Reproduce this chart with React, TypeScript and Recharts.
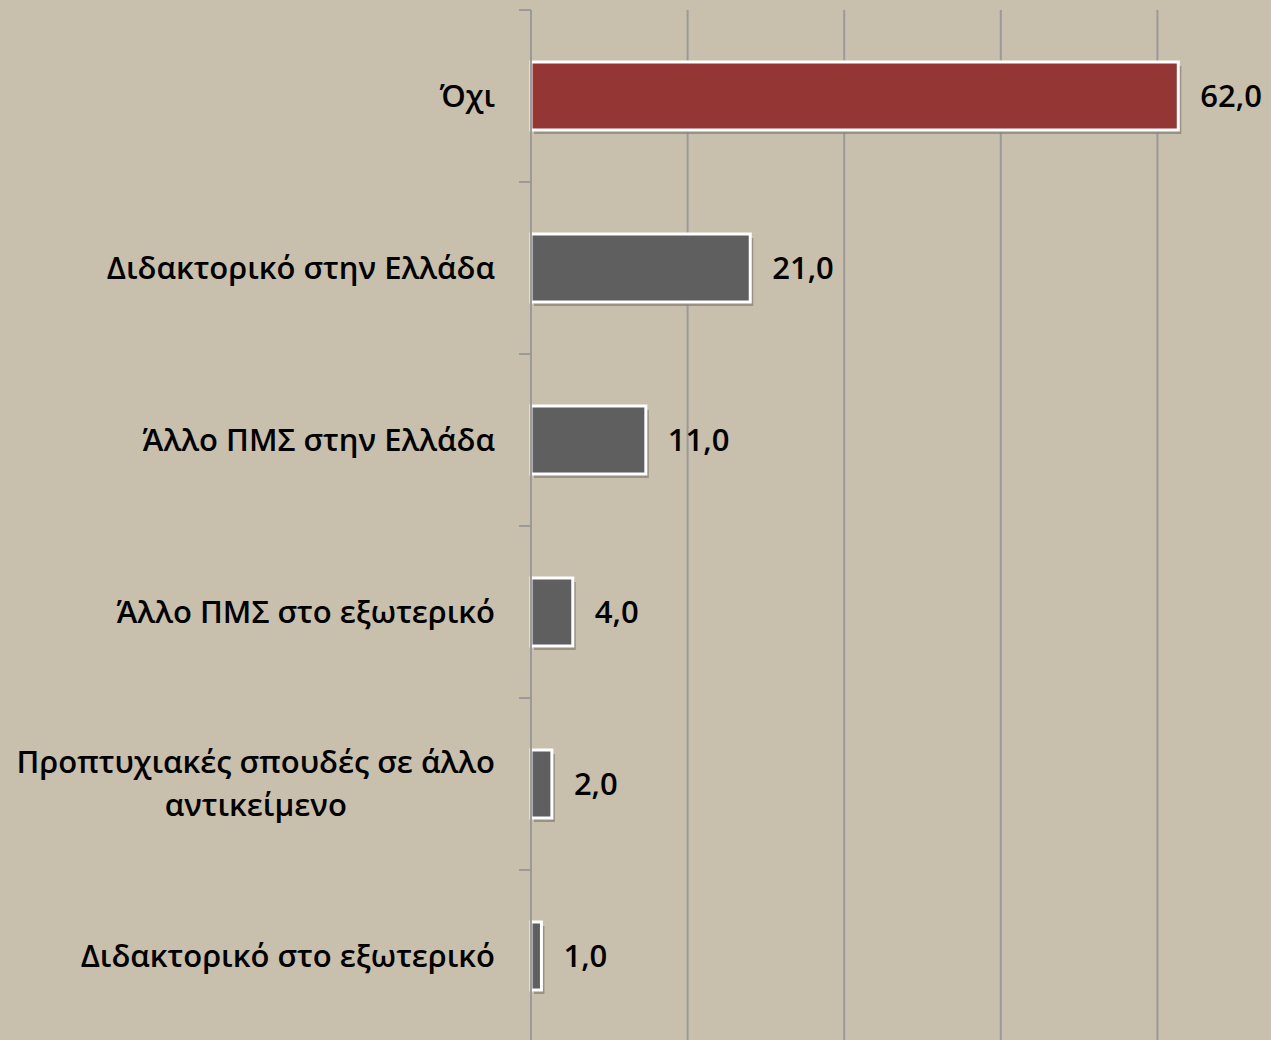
import { Bar, BarChart, CartesianGrid, Cell, LabelList, XAxis, YAxis } from "recharts";

const categories = [
	"Όχι",
	"Διδακτορικό στην Ελλάδα",
	"Άλλο ΠΜΣ στην Ελλάδα",
	"Άλλο ΠΜΣ στο εξωτερικό",
	"Προπτυχιακές σπουδές σε άλλο\nαντικείμενο",
	"Διδακτορικό στο εξωτερικό",
];
const values = [62.0, 21.0, 11.0, 4.0, 2.0, 1.0];
const barColors = ["#943634", "#5f5f5f", "#5f5f5f", "#5f5f5f", "#5f5f5f", "#5f5f5f"];
const xTicks = [0, 15, 30, 45, 60, 75];

const data = categories.map((name, i) => ({ name, value: values[i] }));

const FONT = "'Open Sans', 'DejaVu Sans', sans-serif";
const FONT_SIZE = 31;
const WEIGHT = 600;
const BAND = 172;

let ctx: CanvasRenderingContext2D | null = null;
const measure = (s: string) => {
	if (!ctx) ctx = document.createElement("canvas").getContext("2d");
	if (!ctx) return s.length * FONT_SIZE * 0.55;
	ctx.font = `${WEIGHT} ${FONT_SIZE}px 'Open Sans'`;
	return ctx.measureText(s).width;
};

// tick x arrives 8px left of the axis line
const CategoryTick = (props: any) => {
	const { x, y, payload } = props;
	const lines: string[] = String(payload.value).split("\n");
	const w = Math.max(...lines.map(measure));
	const right = -28;
	const lh = 43;
	const y0 = -((lines.length - 1) * lh) / 2;
	return (
		<g transform={`translate(${x},${y})`}>
			<line x1={-4} x2={8} y1={-BAND / 2} y2={-BAND / 2} stroke="#9a9a9a" strokeWidth={2} />
			<line x1={-4} x2={8} y1={BAND / 2} y2={BAND / 2} stroke="#9a9a9a" strokeWidth={2} />
			{lines.map((l, i) => (
				<text
					key={i}
					x={lines.length > 1 ? right - w / 2 : right}
					y={y0 + i * lh}
					dy="0.35em"
					textAnchor={lines.length > 1 ? "middle" : "end"}
					fontFamily={FONT}
					fontSize={FONT_SIZE}
					fontWeight={WEIGHT}
					fill="#000"
				>
					{l}
				</text>
			))}
		</g>
	);
};

const ShadowBar = (props: any) => {
	const { x, y, width, height, fill } = props;
	return (
		<g>
			<rect x={x + 3} y={y + 4} width={width} height={height} fill="#8d877b" opacity={0.8} />
			<rect x={x} y={y} width={width} height={height} fill={fill} stroke="#ffffff" strokeWidth={3} />
		</g>
	);
};

const App = () => {
	return (
		<div
			style={{
				position: "absolute",
				left: 0,
				top: 0,
				width: 1271,
				height: 1040,
				overflow: "hidden",
				background: "#c8bfac",
			}}
		>
			<BarChart
				width={1320}
				height={1060}
				data={data}
				layout="vertical"
				barCategoryGap={0}
				margin={{ top: 10, right: 6, left: 0, bottom: 18 }}
			>
				<CartesianGrid horizontal={false} stroke="#9a9a9a" strokeWidth={2} />
				<XAxis type="number" domain={[0, 75]} ticks={xTicks} hide />
				<YAxis
					type="category"
					dataKey="name"
					width={531}
					axisLine={{ stroke: "#9a9a9a", strokeWidth: 2 }}
					tickLine={false}
					tick={<CategoryTick />}
					interval={0}
				/>
				<Bar dataKey="value" barSize={68} isAnimationActive={false} shape={<ShadowBar />}>
					{data.map((d, i) => (
						<Cell key={d.name} fill={barColors[i]} />
					))}
					<LabelList
						dataKey="value"
						position="right"
						offset={22}
						formatter={(v: any) => Number(v).toFixed(1).replace(".", ",")}
						style={{ fontFamily: FONT, fontSize: FONT_SIZE, fontWeight: WEIGHT, fill: "#000" }}
					/>
				</Bar>
			</BarChart>
		</div>
	);
};

export default App;
